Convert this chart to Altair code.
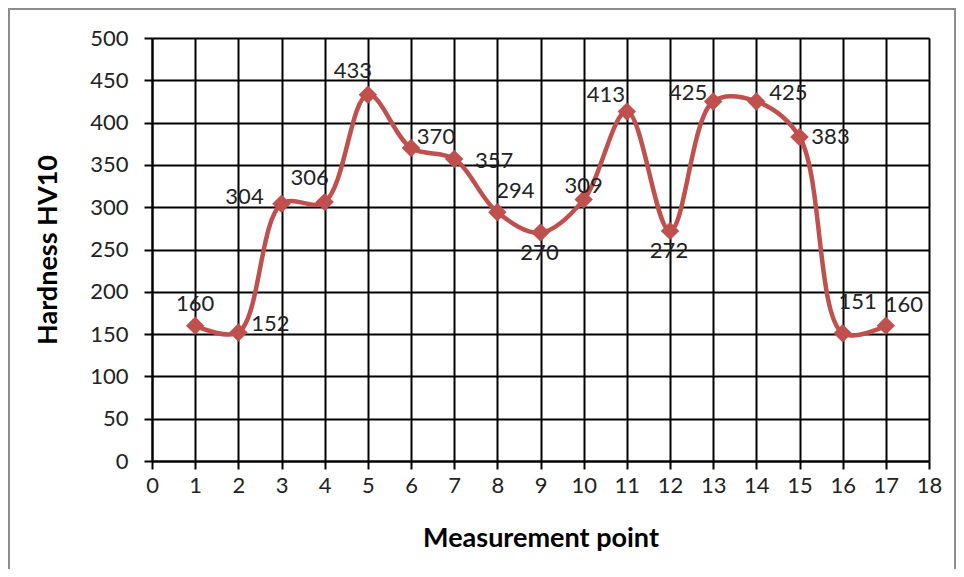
import altair as alt
import pandas as pd

points = list(range(1, 18))
hardness = [160, 152, 304, 306, 433, 370, 357, 294, 270, 309, 413, 272, 425, 425, 383, 151, 160]
placement = ["above", "right", "left", "above_left", "above_left", "right_up", "right_far",
             "above_right", "below", "above_low", "up_left", "below", "left_near", "right",
             "right_level", "above_right_high", "above_right"]

df = pd.DataFrame({"point": points, "hv": hardness, "place": placement})

FONT = "Lato"
RED = "#C0504D"
TXT = "#222222"

x = alt.X("point:Q", scale=alt.Scale(domain=[0, 18], nice=False),
          axis=alt.Axis(title="Measurement point", values=list(range(0, 19)), labelOverlap=False,
                        grid=True, gridColor="black", gridWidth=2, domainColor="black", domainWidth=2,
                        tickColor="black", tickWidth=2, tickSize=8, labelFontSize=22, labelColor=TXT,
                        labelPadding=6, titleFontSize=27, titleFont=FONT, labelFont=FONT,
                        titleFontWeight="bold", titlePadding=29, titleColor="black", labelFlush=False))
y = alt.Y("hv:Q", scale=alt.Scale(domain=[0, 500], nice=False),
          axis=alt.Axis(title="Hardness HV10", values=list(range(0, 501, 50)), labelOverlap=False,
                        grid=True, gridColor="black", gridWidth=2, domainColor="black", domainWidth=2,
                        tickColor="black", tickWidth=2, tickSize=8, labelFontSize=22, labelColor=TXT,
                        labelPadding=16, titleFontSize=27, titleFont=FONT, labelFont=FONT,
                        titleFontWeight="bold", titlePadding=27, titleColor="black"))

base = alt.Chart(df)

line = base.mark_line(color=RED, strokeWidth=4.5, interpolate="catmull-rom").encode(x=x, y=y)
pts = base.mark_point(shape="diamond", filled=True, color=RED, size=340, opacity=1).encode(x=x, y=y)

# label offsets (label centre relative to its point), a styling table
offsets = {
    "above": (0, -22),
    "above_low": (0, -14),
    "above_left": (-15, -24),
    "above_right": (18, -21),
    "above_right_high": (15, -31),
    "right": (32, -8),
    "right_level": (31, 0),
    "right_up": (25, -11),
    "right_far": (40, 2),
    "left": (-37, -7),
    "left_near": (-25, -8),
    "up_left": (-21, -17),
    "below": (-1, 20),
}
labels = []
for k, (ddx, ddy) in offsets.items():
    labels.append(
        base.transform_filter(alt.datum.place == k).mark_text(
            font=FONT, fontSize=22, color=TXT, baseline="middle", align="center", dx=ddx, dy=ddy
        ).encode(x="point:Q", y="hv:Q", text="hv:Q")
    )

frame = alt.Chart(alt.Data(values=[{}])).mark_rect(
    fill=None, stroke="#8c8c8c", strokeWidth=2, clip=False
).encode(x=alt.value(-143), x2=alt.value(803), y=alt.value(-29), y2=alt.value(545))

chart = alt.layer(frame, line, pts, *labels).properties(
    width=777, height=423,
    autosize=alt.AutoSizeParams(type="none"),
    padding={"left": 144, "top": 30, "right": 27, "bottom": 108},
).configure_view(stroke="black", strokeWidth=2).configure(background="white")

chart.save("out.html", embed_options={"renderer": "svg", "actions": False})
